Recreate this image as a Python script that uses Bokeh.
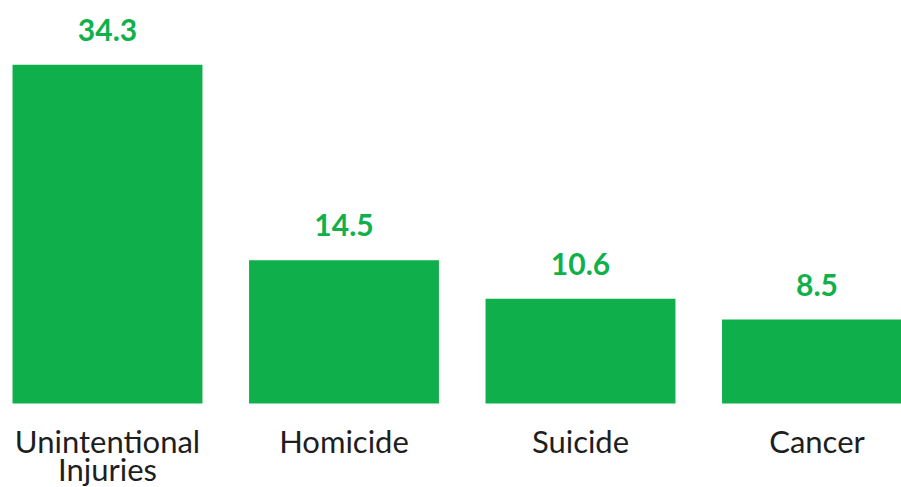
from bokeh.plotting import figure
from bokeh.models import ColumnDataSource, Range1d
from bokeh.core.properties import value
from bokeh.embed import file_html
from bokeh.resources import INLINE

categories = ["Unintentional\nInjuries", "Homicide", "Suicide", "Cancer"]
values = [34.3, 14.5, 10.6, 8.5]
value_labels = ["34.3", "14.5", "10.6", "8.5"]

idx = list(range(len(categories)))
src = ColumnDataSource(dict(x=idx, top=values, lab=value_labels))

# one row per text line of the category labels
lx, ltext, lyoff = [], [], []
for i, c in enumerate(categories):
    for j, line in enumerate(c.split("\n")):
        lx.append(i)
        ltext.append(line)
        lyoff.append(37 + 28 * j)
cat_src = ColumnDataSource(dict(x=lx, y=[0] * len(lx), text=ltext, yoff=lyoff))

p = figure(width=901, height=487, output_backend="svg", toolbar_location=None,
           x_range=Range1d(-0.4524, 3.3573), y_range=Range1d(-8.506, 40.81),
           min_border=0)
p.outline_line_color = None
p.grid.grid_line_color = None
p.axis.visible = False
p.background_fill_color = "white"
p.border_fill_color = "white"

p.vbar(x="x", top="top", bottom=0, width=0.803, source=src, fill_color="#0FAF4B", line_color=None)
p.text(x="x", y="top", text="lab", source=src, text_align="center", text_baseline="alphabetic",
       y_offset=-35, text_font=value("Lato"), text_font_style="bold", text_font_size="30px",
       text_color="#10B04B")
p.text(x="x", y="y", text="text", source=cat_src, text_align="center", text_baseline="alphabetic",
       y_offset="yoff", text_font=value("Lato"), text_font_size="31px",
       text_color="#1E1E1E")

open("out.html", "w").write(file_html(p, INLINE))
